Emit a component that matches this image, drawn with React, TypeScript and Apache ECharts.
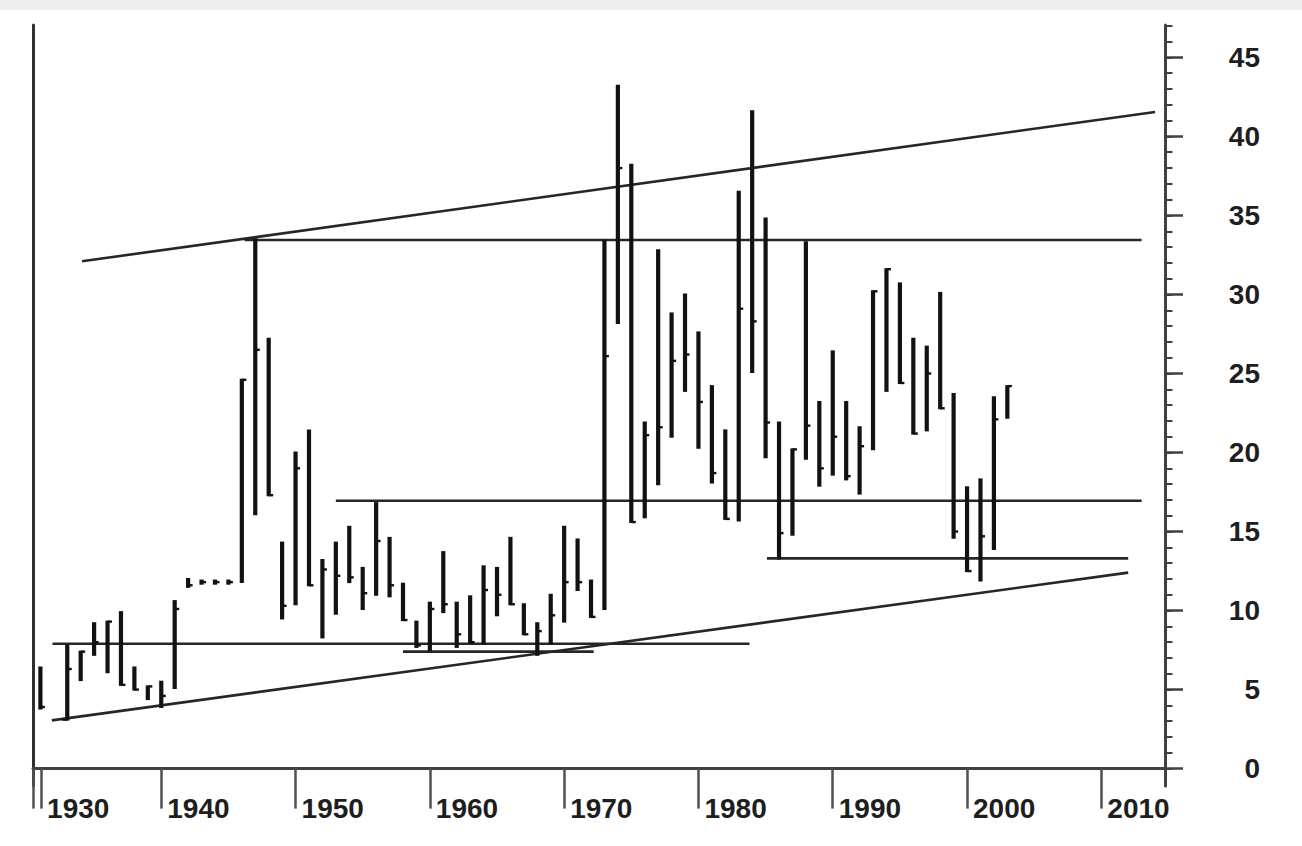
import React, { useEffect, useRef } from 'react';
import * as echarts from 'echarts';

// yearly ranges (1932 has no bar in the original)
const years = [
  1931, 1933, 1934, 1935, 1936, 1937, 1938, 1939, 1940, 1941,
  1942, 1943, 1944, 1945, 1946, 1947, 1948, 1949, 1950, 1951,
  1952, 1953, 1954, 1955, 1956, 1957, 1958, 1959, 1960, 1961,
  1962, 1963, 1964, 1965, 1966, 1967, 1968, 1969, 1970, 1971,
  1972, 1973, 1974, 1975, 1976, 1977, 1978, 1979, 1980, 1981,
  1982, 1983, 1984, 1985, 1986, 1987, 1988, 1989, 1990, 1991,
  1992, 1993, 1994, 1995, 1996, 1997, 1998, 1999, 2000, 2001,
  2002, 2003
];
const lows = [
  3.8, 3.1, 5.6, 7.2, 6.1, 5.3, 5.0, 4.4, 3.9, 5.1,
  11.5, 11.7, 11.7, 11.7, 11.8, 16.1, 17.3, 9.5, 10.4, 11.6,
  8.3, 9.8, 11.8, 10.1, 11.0, 10.9, 9.4, 7.7, 7.5, 9.9,
  7.7, 8.0, 7.9, 9.7, 10.4, 8.5, 7.2, 7.9, 9.3, 11.3,
  9.6, 10.1, 28.2, 15.6, 15.9, 18.0, 21.0, 23.9, 20.3, 18.1,
  15.8, 15.7, 25.1, 19.7, 13.3, 14.8, 19.6, 17.9, 18.6, 18.3,
  17.4, 20.2, 23.9, 24.4, 21.2, 21.4, 22.8, 14.6, 12.5, 11.9,
  13.9, 22.2
];
const highs = [
  6.4, 7.8, 7.4, 9.2, 9.3, 9.9, 6.4, 5.2, 5.5, 10.6,
  12.0, 11.9, 11.9, 11.9, 24.6, 33.5, 27.2, 14.3, 20.0, 21.4,
  13.2, 14.3, 15.3, 12.7, 16.8, 14.6, 11.7, 9.3, 10.5, 13.7,
  10.5, 10.9, 12.8, 12.7, 14.6, 10.4, 9.2, 11.0, 15.3, 14.5,
  11.9, 33.4, 43.2, 38.2, 21.9, 32.8, 28.8, 30.0, 27.6, 24.2,
  21.4, 36.5, 41.6, 34.8, 21.9, 20.2, 33.3, 23.2, 26.4, 23.2,
  21.6, 30.2, 31.6, 30.7, 27.2, 26.7, 30.1, 23.7, 17.8, 18.3,
  23.5, 24.2
];
const closes = [
  3.9, 6.3, 7.4, 8.0, 9.3, 5.3, 5.0, 5.2, 4.6, 10.1,
  11.6, 11.8, 11.8, 11.8, 24.6, 26.5, 17.3, 10.3, 19.0, 11.6,
  12.6, 12.2, 12.1, 11.1, 14.4, 11.6, 9.4, 7.8, 10.1, 10.4,
  8.5, 8.0, 11.3, 11.0, 10.4, 8.5, 8.7, 9.7, 11.8, 11.8,
  9.6, 26.1, 38.0, 15.6, 21.1, 21.6, 25.8, 26.2, 23.2, 18.7,
  15.8, 29.1, 28.3, 21.9, 14.9, 20.2, 21.7, 19.0, 21.0, 18.5,
  20.4, 30.2, 31.6, 24.4, 21.2, 25.0, 22.8, 15.0, 12.5, 14.7,
  22.1, 24.2
];
// the only open tick that shows
const opens: Record<number, number> = { 1933: 3.1 };

// hand-drawn support / resistance lines [year, value]
const upperTrend = [[1934.1, 32.1], [2014.0, 41.55]];
const lowerTrend = [[1931.85, 3.05], [2012.0, 12.4]];
const level33 = [[1946.2, 33.45], [2013.0, 33.45]];
const level17 = [[1953.0, 16.95], [2013.0, 16.95]];
const level13 = [[1985.1, 13.3], [2012.0, 13.3]];
const level8 = [[1931.9, 7.9], [1983.8, 7.9]];
const level7 = [[1958.0, 7.4], [1972.2, 7.4]];

const yMajor = [0, 5, 10, 15, 20, 25, 30, 35, 40, 45];
const yMinor = Array.from({ length: 48 }, (_, i) => i);
const xLabelYears = [1931.05, 1940, 1950, 1960, 1970, 1980, 1990, 2000, 2010];

const FONT = '"Liberation Sans", Arial, sans-serif';

const App: React.FC = () => {
  const chartRef = useRef<HTMLDivElement>(null);

  useEffect(() => {
    if (!chartRef.current) return;
    const chart = echarts.init(chartRef.current, undefined, { renderer: 'svg' });

    const lineSeries = (data: number[][]) => ({
      type: 'line',
      data,
      symbol: 'none',
      silent: true,
      z: 2,
      lineStyle: { color: '#262626', width: 2.6 }
    });

    const option = {
      animation: false,
      backgroundColor: 'transparent',
      grid: { left: 33, right: 137, top: 25, bottom: 60 },
      xAxis: {
        type: 'value',
        min: 1930.45,
        max: 2014.74,
        splitLine: { show: false },
        axisLine: { show: true, lineStyle: { color: '#404040', width: 3 } },
        axisTick: {
          show: true,
          customValues: [1930.47, ...xLabelYears],
          length: 40,
          lineStyle: { color: '#505050', width: 2.5 }
        },
        axisLabel: {
          customValues: xLabelYears,
          formatter: (v: number) => String(Math.round(v / 10) * 10),
          align: 'left',
          verticalAlign: 'top',
          padding: [0, 0, 0, 6],
          margin: 8,
          fontSize: 28,
          fontWeight: 'bold',
          fontFamily: FONT,
          color: '#1e1e1e'
        }
      },
      yAxis: [
        {
          type: 'value',
          position: 'right',
          min: -1.1,
          max: 47.05,
          splitLine: { show: false },
          axisLine: { show: true, lineStyle: { color: '#404040', width: 3 } },
          axisTick: {
            show: true,
            customValues: yMajor,
            length: 18,
            lineStyle: { color: '#404040', width: 2.5 }
          },
          axisLabel: {
            customValues: yMajor,
            align: 'right',
            margin: 95,
            fontSize: 28,
            fontWeight: 'bold',
            fontFamily: FONT,
            color: '#1e1e1e'
          }
        },
        {
          type: 'value',
          position: 'right',
          min: -1.1,
          max: 47.05,
          splitLine: { show: false },
          axisLine: { show: false },
          axisTick: {
            show: true,
            customValues: yMinor,
            length: 7.5,
            lineStyle: { color: '#404040', width: 2 }
          },
          axisLabel: { show: false }
        },
        {
          type: 'value',
          position: 'left',
          min: -1.1,
          max: 47.05,
          splitLine: { show: false },
          axisLine: { show: true, lineStyle: { color: '#303030', width: 3 } },
          axisTick: { show: false },
          axisLabel: { show: false }
        }
      ],
      series: [
        lineSeries(upperTrend),
        lineSeries(lowerTrend),
        lineSeries(level33),
        lineSeries(level17),
        lineSeries(level13),
        lineSeries(level8),
        lineSeries(level7),
        {
          type: 'custom',
          z: 3,
          silent: true,
          data: years.map((y, i) => [y, lows[i], highs[i]]),
          encode: { x: 0, y: [1, 2] },
          renderItem: (params: any, api: any) => {
            const i = params.dataIndex;
            const year = years[i];
            const [x, yLow] = api.coord([year, lows[i]]);
            const yHigh = api.coord([year, highs[i]])[1];
            const yClose = api.coord([year, closes[i]])[1];
            const children: any[] = [
              {
                type: 'line',
                shape: { x1: x, y1: yLow + 1, x2: x, y2: yHigh - 1 },
                style: { stroke: '#121212', lineWidth: 4.2 }
              },
              {
                type: 'line',
                shape: { x1: x, y1: yClose, x2: x + 4.5, y2: yClose },
                style: { stroke: '#121212', lineWidth: 2.4 }
              }
            ];
            if (opens[year] !== undefined) {
              const yOpen = api.coord([year, opens[year]])[1];
              children.push({
                type: 'line',
                shape: { x1: x - 5, y1: yOpen, x2: x, y2: yOpen },
                style: { stroke: '#121212', lineWidth: 2.4 }
              });
            }
            return { type: 'group', children };
          }
        }
      ]
    };

    chart.setOption(option as any);
    return () => {
      chart.dispose();
    };
  }, []);

  return (
    <div style={{ position: 'absolute', left: 0, top: 0, width: 1302, height: 846, background: '#fff' }}>
      <div style={{ position: 'absolute', left: 0, top: 0, width: 1302, height: 10, background: '#eeeeee' }} />
      <div ref={chartRef} style={{ position: 'absolute', left: 0, top: 0, width: 1302, height: 846 }} />
    </div>
  );
};

export default App;
